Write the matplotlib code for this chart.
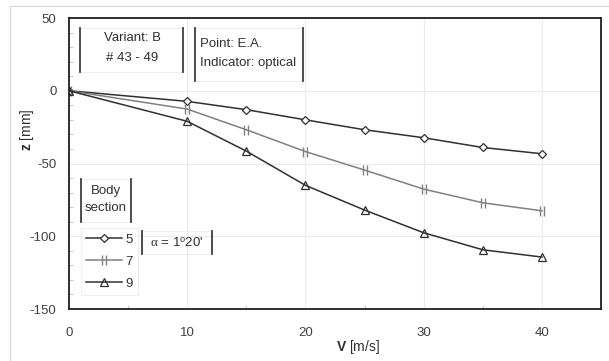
import matplotlib
matplotlib.use('Agg')
import matplotlib.pyplot as plt
from matplotlib.path import Path
from matplotlib.lines import Line2D
from matplotlib.patches import Rectangle
from matplotlib.ticker import MultipleLocator

# data
speed = [0, 10, 15, 20, 25, 30, 35, 40]
z_sec5 = [0, -7.3, -13.0, -20.0, -26.8, -32.3, -39.0, -43.3]
z_sec7 = [0, -12.6, -26.8, -41.8, -54.5, -67.6, -77.0, -82.5]
z_sec9 = [0, -21.0, -41.5, -65.0, -82.0, -97.6, -109.3, -114.3]
section_labels = ['5', '7', '9']

plt.rcParams['font.family'] = ['Liberation Sans', 'DejaVu Sans']
plt.rcParams['mathtext.fontset'] = 'custom'
plt.rcParams['mathtext.rm'] = 'Liberation Sans'
plt.rcParams['mathtext.bf'] = 'Liberation Sans:bold'
plt.rcParams['mathtext.it'] = 'Liberation Serif'
plt.rcParams['axes.unicode_minus'] = False

W, H = 609, 361
fig = plt.figure(figsize=(W / 100, H / 100), dpi=100)


def fx(x):
    return x / W


def fy(y):
    return 1 - y / H


# axes box in pixels: left 69, right 601, top 18, bottom 309
ax = fig.add_axes([fx(69), fy(309), (601 - 69) / W, (309 - 18) / H])

# two short vertical strokes, used for section 7
double_bar = Path([(-0.35, -1), (-0.35, 1), (0.35, -1), (0.35, 1)],
                  [Path.MOVETO, Path.LINETO, Path.MOVETO, Path.LINETO])

ax.plot(speed, z_sec5, color='#303030', lw=1.1, marker='D', ms=4.5,
        mfc='white', mec='#303030', mew=0.9, label=section_labels[0])
ax.plot(speed, z_sec7, color='#808080', lw=1.1, marker=double_bar, ms=7,
        mec='#808080', mew=1.0, label=section_labels[1])
ax.plot(speed, z_sec9, color='#303030', lw=1.1, marker='^', ms=6,
        mfc='none', mec='#303030', mew=0.9, label=section_labels[2])

ax.set_xlim(0, 45)
ax.set_ylim(-150, 50)
ax.set_xticks([0, 10, 20, 30, 40])
ax.set_yticks([-150, -100, -50, 0, 50])
ax.xaxis.set_minor_locator(MultipleLocator(5))
ax.yaxis.set_minor_locator(MultipleLocator(10))
ax.tick_params(axis='both', which='major', length=0, labelsize=9.5, colors='#404040')
ax.tick_params(axis='y', which='major', pad=9)
ax.tick_params(axis='x', which='major', pad=13)
ax.tick_params(axis='both', which='minor', length=3, direction='in',
               color='#c0c0c0', width=0.6)
ax.grid(True, which='major', color='#ebebeb', lw=0.8)
ax.set_axisbelow(True)
for s in ax.spines.values():
    s.set_color('#202020')
    s.set_linewidth(1.3)

fig.text(fx(358), fy(347), r'$\mathbf{V}$ [m/s]', ha='center', va='center',
         fontsize=10, color='#303030')
fig.text(fx(27), fy(130), r'$\mathbf{z}$ [mm]', ha='center', va='center',
         rotation=90, fontsize=10, color='#303030')

leg = ax.legend(loc='upper left', bbox_to_anchor=(fx(81), fy(228)),
                bbox_transform=fig.transFigure, borderaxespad=0,
                fontsize=9.5, handlelength=2.7, handletextpad=0.25,
                labelspacing=0.75, borderpad=0.4, fancybox=False,
                framealpha=1, edgecolor='#eeeeee')
leg.get_frame().set_linewidth(0.8)
for t in leg.get_texts():
    t.set_color('#303030')


def side_box(x0, x1, y0, y1):
    # faint frame with dark left/right edges, pixel coords
    fig.add_artist(Rectangle((fx(x0), fy(y1)), fx(x1 - x0), (y1 - y0) / H,
                             transform=fig.transFigure, fill=False,
                             edgecolor='#eeeeee', lw=0.8))
    for xx in (x0, x1):
        fig.add_artist(Line2D([fx(xx), fx(xx)], [fy(y0), fy(y1)],
                              transform=fig.transFigure, color='#404040', lw=1.3))


txt = dict(fontsize=9.5, color='#303030', va='center')

side_box(80, 183, 28, 72)
fig.text(fx(132), fy(38), 'Variant: B', ha='center', **txt)
fig.text(fx(132), fy(58), '# 43 - 49', ha='center', **txt)

side_box(195, 303, 28, 81)
fig.text(fx(200), fy(44), 'Point: E.A.', ha='left', **txt)
fig.text(fx(200), fy(63), 'Indicator: optical', ha='left', **txt)

side_box(81, 131, 179, 222)
fig.text(fx(106), fy(191), 'Body', ha='center', **txt)
fig.text(fx(106), fy(208), 'section', ha='center', **txt)

side_box(142, 212, 231, 254)
fig.text(fx(177), fy(243), r"$\alpha$ = 1$^{\rm o}$20'", ha='center', **txt)

# light outer frame of the chart area
fig.add_artist(Line2D([fx(10), fx(609)], [fy(6), fy(6)], transform=fig.transFigure,
                      color='#d9d9d9', lw=0.8))
fig.add_artist(Line2D([fx(10), fx(10)], [fy(6), fy(361)], transform=fig.transFigure,
                      color='#d9d9d9', lw=0.8))

fig.savefig('out.png', dpi=100, facecolor='white')
